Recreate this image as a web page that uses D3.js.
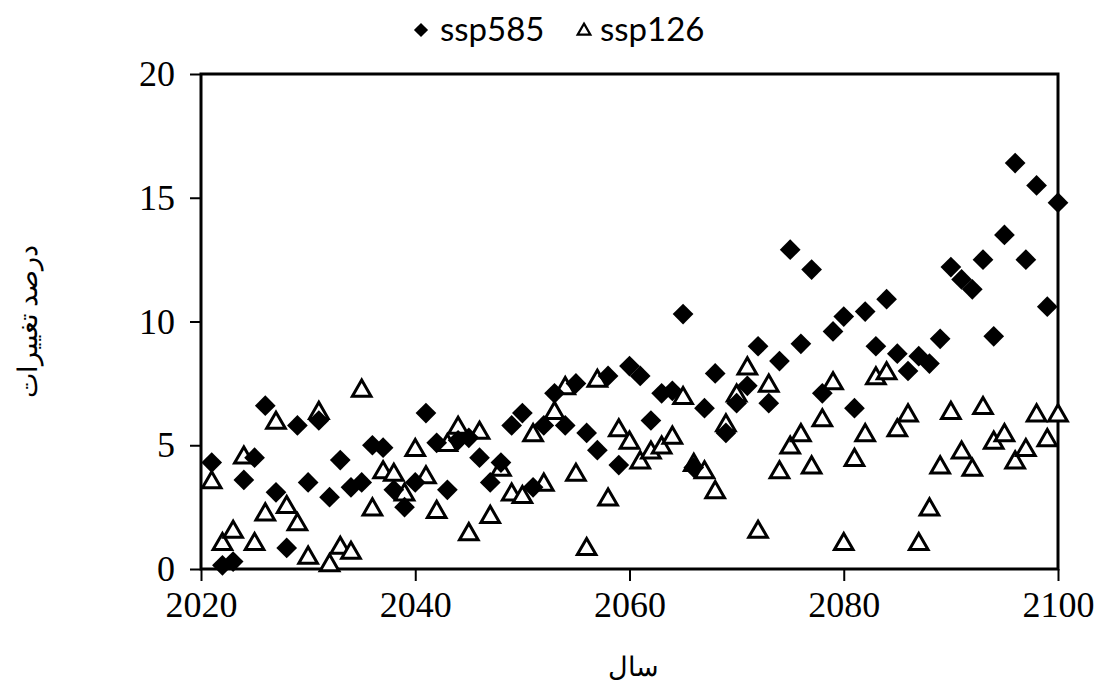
<!DOCTYPE html>
<html>
<head>
<meta charset="utf-8">
<script src="https://cdn.jsdelivr.net/npm/d3@7"></script>
<style>
  html, body { margin: 0; padding: 0; background: #fff; }
  svg { display: block; }
</style>
</head>
<body>
<svg id="chart" width="1101" height="686"></svg>
<script>
// Years 2021–2100, one value per year for each scenario (percent change)
const years = d3.range(2021, 2101);

const ssp585 = [
  4.3, 0.15, 0.3, 3.6, 4.5, 6.6, 3.1, 0.85, 5.8, 3.5,
  6.0, 2.9, 4.4, 3.3, 3.5, 5.0, 4.9, 3.2, 2.5, 3.5,
  6.3, 5.1, 3.2, 5.2, 5.3, 4.5, 3.5, 4.3, 5.8, 6.3,
  3.3, 5.8, 7.1, 5.8, 7.5, 5.5, 4.8, 7.8, 4.2, 8.2,
  7.8, 6.0, 7.1, 7.2, 10.3, 4.1, 6.5, 7.9, 5.5, 6.7,
  7.4, 9.0, 6.7, 8.4, 12.9, 9.1, 12.1, 7.1, 9.6, 10.2,
  6.5, 10.4, 9.0, 10.9, 8.7, 8.0, 8.6, 8.3, 9.3, 12.2,
  11.7, 11.3, 12.5, 9.4, 13.5, 16.4, 12.5, 15.5, 10.6, 14.8
];

const ssp126 = [
  3.5, 1.0, 1.5, 4.5, 1.0, 2.2, 5.9, 2.5, 1.8, 0.45,
  6.3, 0.15, 0.85, 0.65, 7.2, 2.4, 3.9, 3.8, 3.0, 4.8,
  3.7, 2.3, 5.0, 5.7, 1.4, 5.5, 2.1, 4.0, 3.0, 2.9,
  5.4, 3.4, 6.3, 7.3, 3.8, 0.8, 7.6, 2.8, 5.6, 5.1,
  4.3, 4.7, 4.9, 5.3, 6.9, 4.2, 3.9, 3.1, 5.8, 7.0,
  8.1, 1.5, 7.4, 3.9, 4.9, 5.4, 4.1, 6.0, 7.5, 1.0,
  4.4, 5.4, 7.7, 7.9, 5.6, 6.2, 1.0, 2.4, 4.1, 6.3,
  4.7, 4.0, 6.5, 5.1, 5.4, 4.3, 4.8, 6.2, 5.2, 6.2
];

const xTicks = [2020, 2040, 2060, 2080, 2100];
const yTicks = [0, 5, 10, 15, 20];
const seriesNames = ["ssp585", "ssp126"];
const xTitle = "سال";
const yTitle = "درصد تغییرات";

const svg = d3.select("#chart");
const plot = { left: 201, right: 1058, top: 74, bottom: 569 };

const x = d3.scaleLinear().domain([2020, 2100]).range([plot.left, plot.right]);
const y = d3.scaleLinear().domain([0, 20]).range([plot.bottom, plot.top]);

const serif = "'Liberation Serif', 'Times New Roman', serif";

// Axes with outward ticks
const xAxis = svg.append("g")
  .attr("transform", `translate(0,${plot.bottom})`)
  .call(d3.axisBottom(x).tickValues(xTicks).tickFormat(d3.format("d")).tickSize(12).tickPadding(11));
const yAxis = svg.append("g")
  .attr("transform", `translate(${plot.left},0)`)
  .call(d3.axisLeft(y).tickValues(yTicks).tickSize(11).tickPadding(15));

[xAxis, yAxis].forEach(a => {
  a.select(".domain").remove();
  a.selectAll(".tick line").attr("stroke", "#000").attr("stroke-width", 2);
  a.selectAll(".tick text")
    .attr("fill", "#000")
    .style("font-family", serif)
    .style("font-size", "36px");
});
xAxis.selectAll(".tick text").attr("dy", "0.7em");
yAxis.selectAll(".tick text").attr("dy", "0.32em");

// Plot frame
svg.append("rect")
  .attr("x", plot.left).attr("y", plot.top)
  .attr("width", plot.right - plot.left).attr("height", plot.bottom - plot.top)
  .attr("fill", "none").attr("stroke", "#000").attr("stroke-width", 3);

// Markers: open triangles underneath, filled diamonds on top
const tri = d3.symbol().type(d3.symbolTriangle).size(150);
const dia = d3.symbol().type(d3.symbolSquare).size(215);

svg.append("g").selectAll("path")
  .data(years.map((yr, i) => ({ yr, v: ssp126[i] })))
  .join("path")
  .attr("d", tri)
  .attr("transform", d => `translate(${x(d.yr)},${y(d.v)})`)
  .attr("fill", "#fff").attr("stroke", "#000").attr("stroke-width", 3)
  .attr("stroke-linejoin", "miter");

svg.append("g").selectAll("path")
  .data(years.map((yr, i) => ({ yr, v: ssp585[i] })))
  .join("path")
  .attr("d", dia)
  .attr("transform", d => `translate(${x(d.yr)},${y(d.v)}) rotate(45)`)
  .attr("fill", "#000");

// Legend
const sans = "Lato, 'Open Sans', sans-serif";
const legend = svg.append("g");
legend.append("path")
  .attr("d", d3.symbol().type(d3.symbolSquare).size(100))
  .attr("transform", "translate(421,30) rotate(45)")
  .attr("fill", "#000");
legend.append("text")
  .attr("x", 440).attr("y", 41)
  .style("font-family", sans).style("font-size", "33px")
  .text(seriesNames[0]);
legend.append("path")
  .attr("d", d3.symbol().type(d3.symbolTriangle).size(70))
  .attr("transform", "translate(584,31)")
  .attr("fill", "#fff").attr("stroke", "#000").attr("stroke-width", 2.2);
legend.append("text")
  .attr("x", 600).attr("y", 41)
  .style("font-family", sans).style("font-size", "33px")
  .text(seriesNames[1]);

// Axis titles
svg.append("text")
  .attr("x", (plot.left + plot.right) / 2 + 4).attr("y", 676)
  .attr("text-anchor", "middle")
  .attr("direction", "rtl")
  .style("font-family", serif).style("font-size", "27px")
  .text(xTitle);

svg.append("text")
  .attr("transform", `translate(37,${(plot.top + plot.bottom) / 2}) rotate(-90)`)
  .attr("text-anchor", "middle")
  .attr("direction", "rtl")
  .style("font-family", serif).style("font-size", "27px")
  .text(yTitle);
</script>
</body>
</html>
